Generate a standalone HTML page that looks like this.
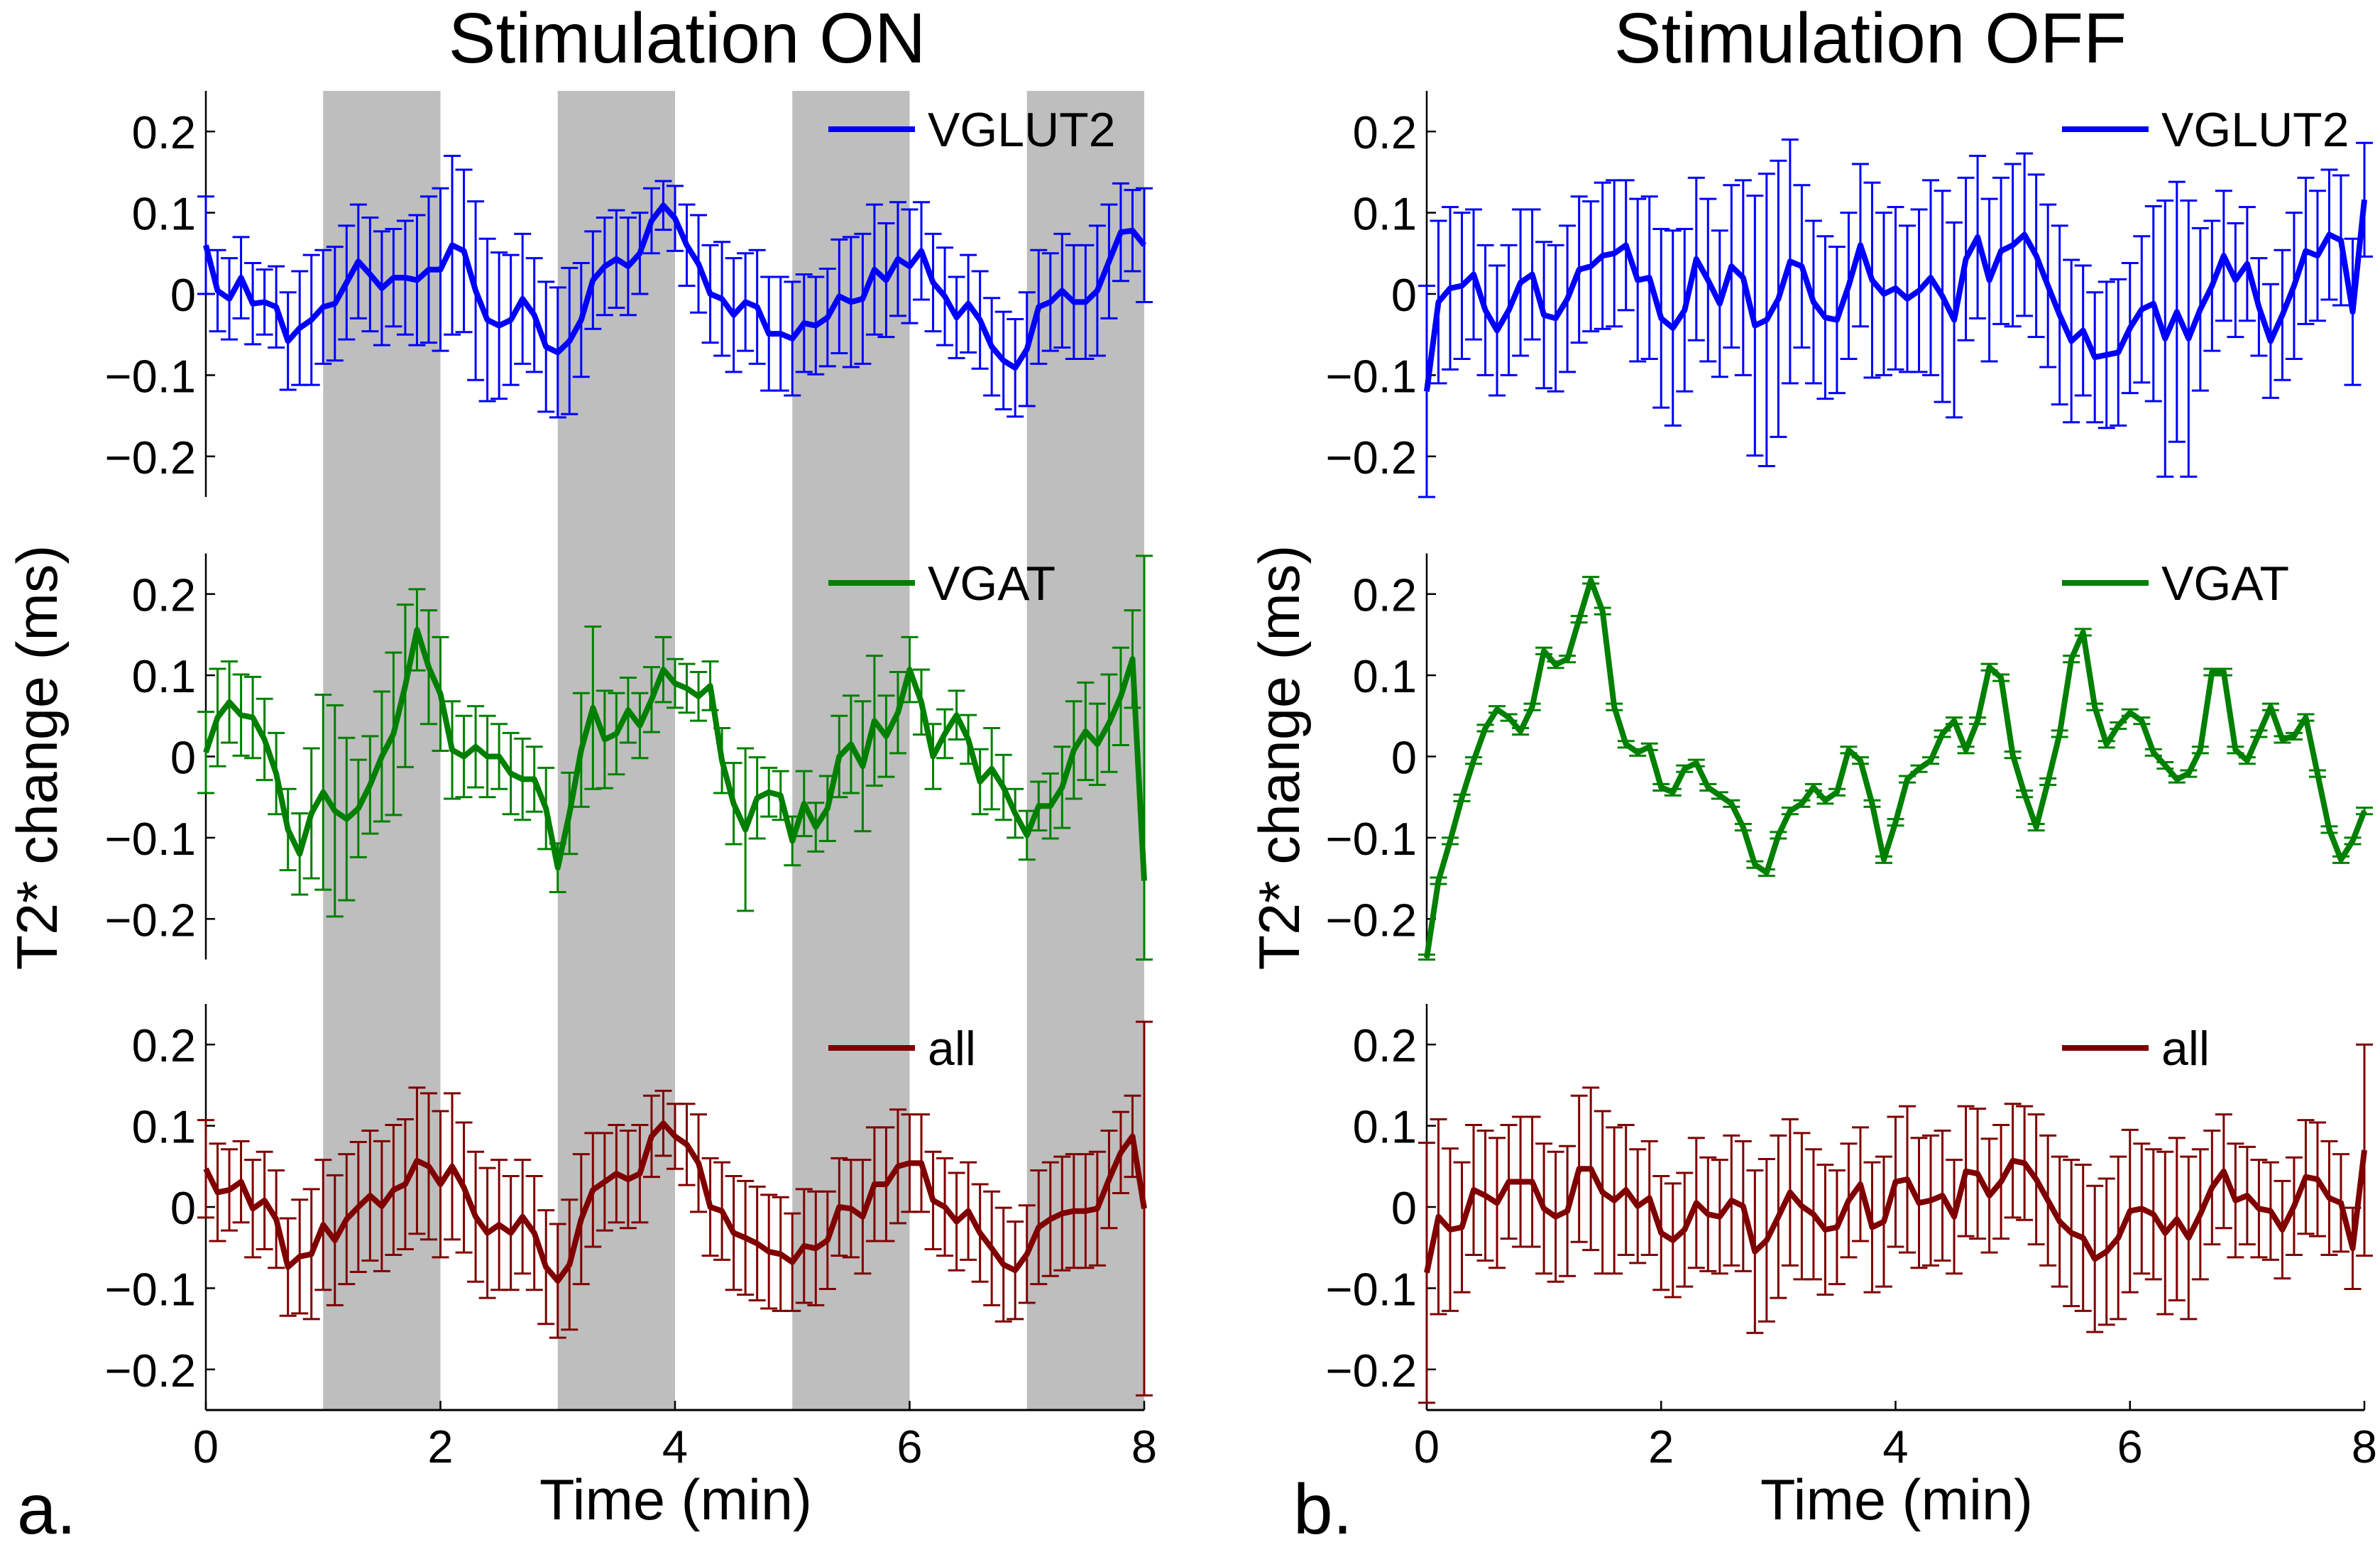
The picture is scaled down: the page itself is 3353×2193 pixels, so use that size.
<!DOCTYPE html>
<html><head><meta charset="utf-8"><style>
html,body{margin:0;padding:0;background:#fff;}
svg{display:block;font-family:"Liberation Sans",Arial,sans-serif;}
</style></head><body>
<svg id="fig" width="3353" height="2193" viewBox="0 0 3353 2193" xmlns="http://www.w3.org/2000/svg">
<text x="968" y="88" font-size="100" text-anchor="middle">Stimulation ON</text>
<text x="2635" y="88" font-size="100" text-anchor="middle">Stimulation OFF</text>
<text transform="translate(80,1067) rotate(-90)" font-size="81" text-anchor="middle">T2* change (ms)</text>
<text transform="translate(1830,1067) rotate(-90)" font-size="81" text-anchor="middle">T2* change (ms)</text>
<text x="952" y="2140" font-size="81" text-anchor="middle">Time (min)</text>
<text x="2672" y="2140" font-size="81" text-anchor="middle">Time (min)</text>
<text x="24" y="2160" font-size="100">a.</text>
<text x="1822" y="2160" font-size="100">b.</text>
<g id="plots"></g>
</svg>
<script>
const times=[0,0.1,0.2,0.3,0.4,0.5,0.6,0.7,0.8,0.9,1,1.1,1.2,1.3,1.4,1.5,1.6,1.7,1.8,1.9,2,2.1,2.2,2.3,2.4,2.5,2.6,2.7,2.8,2.9,3,3.1,3.2,3.3,3.4,3.5,3.6,3.7,3.8,3.9,4,4.1,4.2,4.3,4.4,4.5,4.6,4.7,4.8,4.9,5,5.1,5.2,5.3,5.4,5.5,5.6,5.7,5.8,5.9,6,6.1,6.2,6.3,6.4,6.5,6.6,6.7,6.8,6.9,7,7.1,7.2,7.3,7.4,7.5,7.6,7.7,7.8,7.9,8];
const xTicks=[0,2,4,6,8];
const yTicks=[0.2,0.1,0,-0.1,-0.2];
const yTickLabels=["0.2","0.1","0","\u22120.1","\u22120.2"];
const stimBlocks=[[1,2],[3,4],[5,6],[7,8]];
const legendNames=["VGLUT2","VGAT","all"];

const vglutOn=[0.06,0.004,-0.006,0.02,-0.012,-0.01,-0.016,-0.058,-0.042,-0.032,-0.016,-0.012,0.014,0.04,0.024,0.007,0.02,0.02,0.017,0.03,0.03,0.06,0.053,0.004,-0.032,-0.039,-0.032,-0.006,-0.026,-0.065,-0.072,-0.058,-0.032,0.017,0.034,0.043,0.034,0.05,0.09,0.109,0.093,0.06,0.037,0,-0.006,-0.026,-0.01,-0.016,-0.049,-0.049,-0.055,-0.036,-0.039,-0.029,-0.003,-0.01,-0.006,0.03,0.017,0.043,0.034,0.053,0.014,-0.003,-0.029,-0.012,-0.032,-0.065,-0.082,-0.091,-0.068,-0.016,-0.01,0.004,-0.01,-0.01,0.004,0.04,0.076,0.078,0.06];
const vglutOnErr=[0.06,0.05,0.05,0.05,0.05,0.04,0.05,0.06,0.07,0.08,0.07,0.07,0.07,0.07,0.07,0.07,0.06,0.07,0.08,0.09,0.1,0.11,0.1,0.11,0.1,0.09,0.08,0.08,0.07,0.08,0.08,0.09,0.07,0.06,0.06,0.06,0.06,0.05,0.04,0.03,0.04,0.05,0.06,0.06,0.07,0.07,0.06,0.07,0.07,0.07,0.07,0.06,0.06,0.06,0.07,0.08,0.08,0.08,0.07,0.07,0.07,0.06,0.06,0.06,0.05,0.06,0.06,0.06,0.06,0.06,0.07,0.07,0.06,0.07,0.07,0.07,0.08,0.07,0.06,0.05,0.07];
const vgatOn=[0.005,0.048,0.067,0.051,0.048,0.021,-0.021,-0.09,-0.12,-0.07,-0.044,-0.067,-0.077,-0.064,-0.035,0,0.028,0.087,0.156,0.11,0.077,0.008,0,0.012,0,0,-0.021,-0.028,-0.028,-0.064,-0.137,-0.07,0.008,0.06,0.021,0.028,0.057,0.038,0.07,0.107,0.09,0.084,0.074,0.087,-0.005,-0.058,-0.09,-0.051,-0.044,-0.048,-0.104,-0.058,-0.087,-0.064,0,0.015,-0.012,0.044,0.025,0.054,0.107,0.067,0,0.028,0.051,0.021,-0.031,-0.015,-0.038,-0.07,-0.097,-0.061,-0.061,-0.038,0.008,0.031,0.015,0.041,0.074,0.12,-0.153];
const vgatOnErr=[0.05,0.06,0.05,0.05,0.05,0.05,0.05,0.05,0.05,0.08,0.12,0.13,0.1,0.06,0.06,0.08,0.1,0.1,0.05,0.07,0.07,0.06,0.05,0.05,0.05,0.04,0.05,0.05,0.04,0.05,0.03,0.05,0.07,0.1,0.06,0.05,0.04,0.04,0.04,0.04,0.03,0.03,0.03,0.03,0.04,0.05,0.1,0.05,0.03,0.03,0.03,0.04,0.03,0.04,0.05,0.06,0.08,0.08,0.05,0.05,0.04,0.04,0.04,0.03,0.03,0.03,0.04,0.05,0.04,0.03,0.03,0.03,0.04,0.05,0.06,0.06,0.05,0.06,0.06,0.06,0.4];
const allOn=[0.047,0.018,0.021,0.031,-0.002,0.008,-0.015,-0.074,-0.061,-0.058,-0.022,-0.041,-0.015,0,0.014,0.001,0.021,0.028,0.057,0.05,0.028,0.05,0.024,-0.012,-0.032,-0.022,-0.032,-0.012,-0.032,-0.074,-0.091,-0.071,-0.015,0.021,0.031,0.041,0.034,0.041,0.087,0.103,0.087,0.077,0.054,0,-0.005,-0.032,-0.038,-0.045,-0.055,-0.058,-0.068,-0.048,-0.051,-0.041,0,-0.002,-0.012,0.028,0.028,0.05,0.054,0.054,0.008,0,-0.018,-0.005,-0.032,-0.051,-0.071,-0.078,-0.058,-0.025,-0.015,-0.008,-0.005,-0.005,-0.002,0.034,0.067,0.087,-0.002];
const allOnErr=[0.06,0.06,0.05,0.05,0.06,0.06,0.06,0.06,0.07,0.08,0.08,0.08,0.08,0.08,0.08,0.08,0.08,0.08,0.09,0.09,0.09,0.09,0.08,0.08,0.08,0.08,0.07,0.07,0.07,0.07,0.07,0.08,0.08,0.07,0.06,0.06,0.06,0.06,0.05,0.04,0.04,0.05,0.06,0.06,0.06,0.07,0.07,0.07,0.07,0.07,0.06,0.07,0.07,0.06,0.06,0.06,0.07,0.07,0.07,0.07,0.06,0.06,0.06,0.06,0.06,0.06,0.06,0.07,0.07,0.06,0.06,0.07,0.07,0.07,0.07,0.07,0.07,0.06,0.05,0.05,0.23];
const vglutOff=[-0.12,-0.01,0.007,0.01,0.024,-0.02,-0.045,-0.02,0.014,0.024,-0.026,-0.03,-0.006,0.03,0.034,0.047,0.05,0.06,0.017,0.02,-0.03,-0.042,-0.02,0.043,0.017,-0.012,0.034,0.02,-0.039,-0.032,-0.006,0.04,0.034,-0.01,-0.029,-0.032,0.01,0.06,0.017,0,0.007,-0.006,0.004,0.02,-0.003,-0.032,0.043,0.07,0.017,0.053,0.06,0.073,0.047,0.01,-0.026,-0.058,-0.045,-0.078,-0.075,-0.072,-0.042,-0.019,-0.012,-0.055,-0.022,-0.055,-0.019,0.01,0.047,0.017,0.037,-0.016,-0.058,-0.026,0.01,0.053,0.047,0.073,0.066,-0.022,0.116];
const vglutOffErr=[0.13,0.1,0.1,0.09,0.08,0.08,0.08,0.08,0.09,0.08,0.09,0.09,0.09,0.09,0.08,0.09,0.09,0.08,0.1,0.1,0.11,0.12,0.1,0.1,0.1,0.09,0.1,0.12,0.16,0.18,0.17,0.15,0.1,0.1,0.1,0.09,0.09,0.1,0.12,0.1,0.1,0.09,0.1,0.12,0.13,0.12,0.1,0.1,0.1,0.09,0.1,0.1,0.1,0.1,0.11,0.1,0.08,0.08,0.09,0.09,0.08,0.09,0.12,0.17,0.16,0.17,0.1,0.08,0.08,0.07,0.07,0.06,0.07,0.08,0.09,0.09,0.08,0.08,0.08,0.09,0.07];
const vgatOff=[-0.248,-0.153,-0.104,-0.051,-0.005,0.035,0.058,0.048,0.031,0.061,0.13,0.113,0.12,0.169,0.217,0.179,0.061,0.015,0.005,0.012,-0.038,-0.044,-0.015,-0.008,-0.038,-0.048,-0.058,-0.087,-0.133,-0.143,-0.097,-0.067,-0.058,-0.038,-0.054,-0.044,0.008,-0.005,-0.058,-0.127,-0.081,-0.028,-0.015,-0.005,0.028,0.044,0.008,0.044,0.11,0.097,0.002,-0.046,-0.087,-0.031,0.028,0.12,0.153,0.061,0.015,0.038,0.054,0.044,0.005,-0.011,-0.028,-0.021,0.008,0.104,0.104,0.008,-0.005,0.028,0.061,0.021,0.025,0.048,-0.021,-0.09,-0.127,-0.104,-0.067];
const vgatOffErr=[0.004,0.004,0.004,0.004,0.004,0.004,0.004,0.004,0.004,0.004,0.004,0.004,0.004,0.004,0.004,0.004,0.004,0.004,0.004,0.004,0.004,0.004,0.004,0.004,0.004,0.004,0.004,0.004,0.004,0.004,0.004,0.004,0.004,0.004,0.004,0.004,0.004,0.004,0.004,0.004,0.004,0.004,0.004,0.004,0.004,0.004,0.004,0.004,0.004,0.004,0.004,0.004,0.004,0.004,0.004,0.004,0.004,0.004,0.004,0.004,0.004,0.004,0.004,0.004,0.004,0.004,0.004,0.004,0.004,0.004,0.004,0.004,0.004,0.004,0.004,0.004,0.004,0.004,0.004,0.004,0.004];
const allOff=[-0.081,-0.012,-0.028,-0.025,0.021,0.014,0.005,0.031,0.031,0.031,-0.002,-0.012,-0.005,0.047,0.047,0.018,0.008,0.021,0.001,0.011,-0.032,-0.041,-0.028,0.005,-0.009,-0.012,0.008,0.001,-0.055,-0.041,-0.012,0.018,0.001,-0.009,-0.028,-0.025,0.008,0.028,-0.025,-0.018,0.031,0.034,0.005,0.008,0.014,-0.012,0.044,0.041,0.014,0.031,0.057,0.054,0.034,0.008,-0.018,-0.032,-0.038,-0.064,-0.055,-0.038,-0.005,-0.002,-0.009,-0.032,-0.015,-0.038,-0.009,0.024,0.044,0.008,0.014,-0.002,-0.005,-0.028,0.001,0.037,0.034,0.011,0.005,-0.051,0.07];
const allOffErr=[0.16,0.12,0.1,0.08,0.08,0.08,0.08,0.07,0.08,0.08,0.08,0.08,0.08,0.09,0.1,0.1,0.09,0.08,0.07,0.07,0.07,0.07,0.07,0.08,0.07,0.07,0.08,0.08,0.1,0.1,0.1,0.09,0.09,0.08,0.08,0.07,0.07,0.07,0.08,0.08,0.08,0.09,0.08,0.08,0.08,0.07,0.08,0.08,0.07,0.07,0.07,0.07,0.08,0.08,0.08,0.09,0.09,0.09,0.09,0.1,0.1,0.08,0.08,0.1,0.1,0.1,0.08,0.07,0.07,0.07,0.06,0.06,0.06,0.06,0.06,0.07,0.07,0.07,0.06,0.05,0.13];

const NS="http://www.w3.org/2000/svg";
const root=document.getElementById('plots');
function mk(tag,attrs,parent){const e=document.createElementNS(NS,tag);for(const k in attrs)e.setAttribute(k,attrs[k]);(parent||root).appendChild(e);return e;}

const cols=[{x0:290,x1:1612,legX:1167,side:'on'},{x0:2010,x1:3331,legX:2905,side:'off'}];
const rows=[{zero:414},{zero:1065.5},{zero:1700}];
const PXU=1144, HALF=0.25;
const colors=['#0000ff','#008000','#800000'];
const data={on:[[vglutOn,vglutOnErr],[vgatOn,vgatOnErr],[allOn,allOnErr]],off:[[vglutOff,vglutOffErr],[vgatOff,vgatOffErr],[allOff,allOffErr]]};

function xs(c,t){return c.x0+(c.x1-c.x0)*t/8;}
function ys(r,v){return r.zero-v*PXU;}

const cL=cols[0];
const topY=ys(rows[0],HALF), botY=ys(rows[2],-HALF);
stimBlocks.forEach((b,i)=>{
  const r=mk('rect',{x:xs(cL,b[0]),y:topY,width:xs(cL,b[1])-xs(cL,b[0]),height:botY-topY,fill:'#bebebe'});
  
  
});

cols.forEach((c,ci)=>{
  rows.forEach((r,ri)=>{
    const g=mk('g',{});
    
    
    const yT=ys(r,HALF), yB=ys(r,-HALF);
    const ax=mk('line',{x1:c.x0,y1:yT,x2:c.x0,y2:yB,stroke:'#000','stroke-width':2.5},g);
    
    
    yTicks.forEach((v,k)=>{
      const y=ys(r,v);
      const tk=mk('line',{x1:c.x0,y1:y,x2:c.x0+13,y2:y,stroke:'#000','stroke-width':2.5},g);
      
      
      const tl=mk('text',{x:c.x0-14,y:y+24,'font-size':65,'text-anchor':'end'},g);
      tl.textContent=yTickLabels[k];
      
      
    });
    if(ri===2){
      const xa=mk('line',{x1:c.x0,y1:yB,x2:c.x1,y2:yB,stroke:'#000','stroke-width':3},g);
      
      
      xTicks.forEach(t=>{
        const x=xs(c,t);
        const tk=mk('line',{x1:x,y1:yB,x2:x,y2:yB-13,stroke:'#000','stroke-width':2.5},g);
        
        
        const tl=mk('text',{x:x,y:2060,'font-size':65,'text-anchor':'middle'},g);
        tl.textContent=String(t);
        
        
      });
    }
    const [vals,errs]=data[c.side][ri];
    const col=colors[ri];
    const eg=mk('g',{stroke:col,'stroke-width':3,fill:'none'},g);
    
    
    vals.forEach((v,i)=>{
      const x=xs(c,times[i]);
      const lo=Math.max(v-errs[i],-HALF), hi=Math.min(v+errs[i],HALF);
      const y1=ys(r,hi), y2=ys(r,lo);
      const p=mk('path',{d:`M${x},${y1}V${y2}M${x-12},${y1}H${x+12}M${x-12},${y2}H${x+12}`},eg);
      
      
    });
    const pts=vals.map((v,i)=>xs(c,times[i]).toFixed(1)+','+ys(r,Math.max(-HALF,Math.min(HALF,v))).toFixed(1)).join(' ');
    const ln=mk('polyline',{points:pts,fill:'none',stroke:col,'stroke-width':8,'stroke-linejoin':'round'},g);
    
    
    const ly=[182,821,1476][ri];
    const lg=mk('g',{},g);
    
    
    mk('line',{x1:c.legX,y1:ly,x2:c.legX+122,y2:ly,stroke:col,'stroke-width':8},lg);
    const lt=mk('text',{x:c.legX+140,y:ly+24,'font-size':68},lg);
    lt.textContent=legendNames[ri];
  });
});
</script>
</body></html>
